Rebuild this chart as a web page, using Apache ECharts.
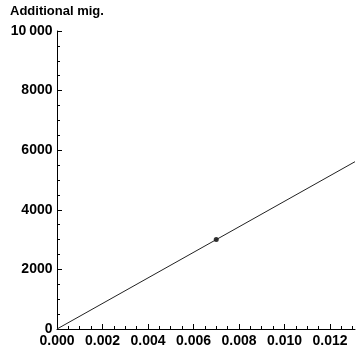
<!DOCTYPE html>
<html>
<head>
<meta charset="utf-8">
<script src="https://cdn.jsdelivr.net/npm/echarts@6/dist/echarts.min.js"></script>
<style>
html,body{margin:0;padding:0;background:#fff;}
#chart{width:356px;height:348px;}
</style>
</head>
<body>
<div id="chart"></div>
<script>
// data
var lineX = [0, 0.0131];          // ends of the straight line
var lineY = [0, 5614];
var pointX = [0.007];             // the marked point
var pointY = [3000];
var xMajorTicks = [0, 0.002, 0.004, 0.006, 0.008, 0.010, 0.012];
var xMinorTicks = [0.0005, 0.001, 0.0015, 0.0025, 0.003, 0.0035, 0.0045, 0.005, 0.0055,
    0.0065, 0.007, 0.0075, 0.0085, 0.009, 0.0095, 0.0105, 0.011, 0.0115, 0.0125, 0.013];
var yTitle = "Additional mig.";

var fontFam = "'Liberation Sans', Arial, Helvetica, sans-serif";

function pairs(xs, ys){  // [x,y] pairs for the series
    var out = [];
    for (var i = 0; i < xs.length; i++) out.push([xs[i], ys[i]]);
    return out;
}

function fmtY(v){  // 10000 -> "10 000"
    if (v >= 10000) return String(v).replace(/\B(?=(\d{3})+(?!\d))/g, "\u2009");
    return String(v);
}

var myChart = echarts.init(document.getElementById('chart'));
var option = {
    animation: false,
    title: {
        text: yTitle,
        left: 5, top: 0,
        textStyle: {fontFamily: fontFam, fontSize: 13, fontWeight: 'bold', color: '#000'}
    },
    grid: {left: 57, right: 1, top: 31, bottom: 18.5, containLabel: false},
    xAxis: [{
        type: 'value', min: 0, max: 0.0131,
        axisLine: {lineStyle: {color: '#000', width: 1}},
        axisTick: {inside: true, length: 5, customValues: xMajorTicks, lineStyle: {color: '#000'}},
        axisLabel: {customValues: xMajorTicks, margin: 5, color: '#000', fontFamily: fontFam,
            fontSize: 14, fontWeight: 'bold', formatter: function (v) { return v.toFixed(3); }},
        splitLine: {show: false}
    }, {
        type: 'value', min: 0, max: 0.0131, position: 'bottom',
        axisLine: {show: false},
        axisTick: {inside: true, length: 3, customValues: xMinorTicks, lineStyle: {color: '#000'}},
        axisLabel: {show: false},
        splitLine: {show: false}
    }],
    yAxis: {
        type: 'value', min: 0, max: 10000, interval: 2000,
        axisLine: {show: true, lineStyle: {color: '#000', width: 1}},
        axisTick: {show: true, inside: true, length: 5, lineStyle: {color: '#000'}},
        minorTick: {show: true, splitNumber: 4, length: 3, lineStyle: {color: '#000'}},
        axisLabel: {margin: 4.5, color: '#000', fontFamily: fontFam, fontSize: 14,
            fontWeight: 'bold', formatter: fmtY},
        splitLine: {show: false}
    },
    series: [{
        type: 'line',
        data: pairs(lineX, lineY),
        showSymbol: false,
        lineStyle: {color: '#222', width: 1},
        silent: true
    }, {
        type: 'scatter',
        data: pairs(pointX, pointY),
        symbolSize: 5,
        itemStyle: {color: '#000'},
        silent: true
    }]
};
myChart.setOption(option);
</script>
</body>
</html>
